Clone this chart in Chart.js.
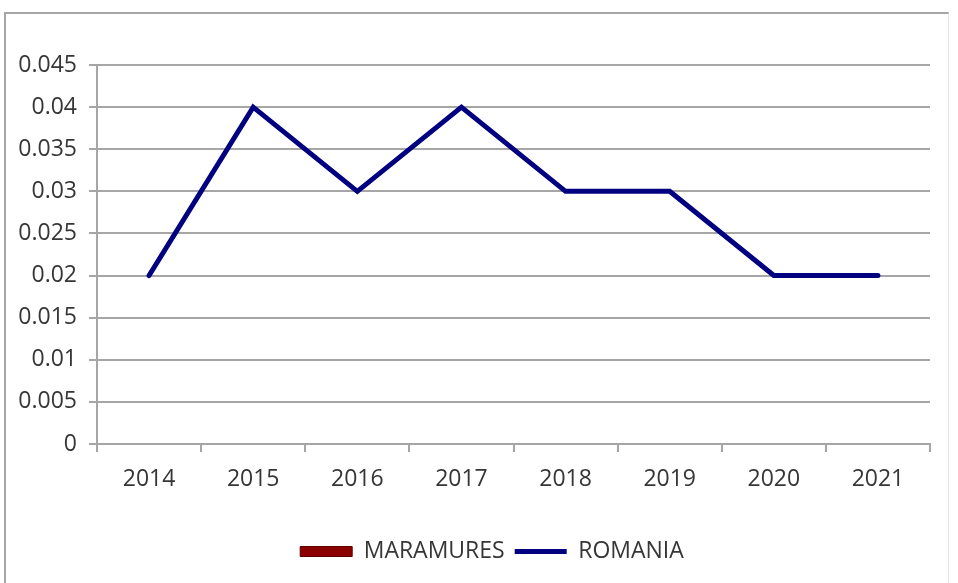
<!DOCTYPE html>
<html>
<head>
<meta charset="utf-8">
<script src="https://cdn.jsdelivr.net/npm/chart.js@4"></script>
<style>
  html, body { margin: 0; padding: 0; background: #fff; }
  #frame {
    position: absolute; left: 4px; top: 12px; width: 942px; height: 600px;
    border-left: 2px solid #a6a6a6; border-top: 2px solid #a6a6a6; border-right: 1px solid #e4e4e4;
  }
  #wrap { position: absolute; left: 0; top: 0; width: 958px; height: 583px; }
</style>
</head>
<body>
<div id="frame"></div>
<div id="wrap"><canvas id="chart"></canvas></div>
<script>
const years = ["2014", "2015", "2016", "2017", "2018", "2019", "2020", "2021"];
const maramures = [null, null, null, null, null, null, null, null];
const romania = [0.02, 0.04, 0.03, 0.04, 0.03, 0.03, 0.02, 0.02];
const yTickLabels = ["0", "0.005", "0.01", "0.015", "0.02", "0.025", "0.03", "0.035", "0.04", "0.045"];

const textColor = "#363636";
const gridColor = "#a6a6a6";
const font = { family: "'Open Sans', sans-serif", size: 23 };

// legend sits a bit right of centre in the original
const legendShift = {
  id: "legendShift",
  afterLayout(chart) {
    chart.legend.left += 27;
    chart.legend.right += 27;
  },
};

const ctx = document.getElementById("chart").getContext("2d");
new Chart(ctx, {
  type: "bar",
  data: {
    labels: years,
    datasets: [
      {
        label: "MARAMURES",
        data: maramures,
        backgroundColor: "#8b0000",
        borderColor: "#5c0000",
        borderWidth: 1,
        pointStyle: "rect",
      },
      {
        type: "line",
        label: "ROMANIA",
        data: romania,
        borderColor: "#000080",
        backgroundColor: "#000080",
        borderWidth: 5,
        borderCapStyle: "round",
        borderJoinStyle: "miter",
        pointRadius: 0,
        pointStyle: "line",
        tension: 0,
        fill: false,
      },
    ],
  },
  options: {
    responsive: true,
    maintainAspectRatio: false,
    animation: false,
    layout: { padding: { left: 0, right: 28, top: 65, bottom: 10 } },
    plugins: {
      tooltip: { enabled: false },
      legend: {
        position: "bottom",
        labels: {
          usePointStyle: true,
          pointStyleWidth: 52,
          boxHeight: 10,
          padding: 10,
          color: textColor,
          font,
        },
      },
    },
    scales: {
      x: {
        offset: true,
        afterFit: (s) => { s.height = 86; },
        grid: {
          offset: true,
          drawOnChartArea: false,
          drawTicks: true,
          tickLength: 8,
          color: gridColor,
          lineWidth: 2,
        },
        border: { color: gridColor, width: 2 },
        ticks: { color: textColor, font, padding: 14, maxRotation: 0 },
      },
      y: {
        min: 0,
        max: 0.045,
        afterFit: (s) => { s.width = 97; },
        grid: { color: gridColor, lineWidth: 2, tickLength: 8 },
        border: { color: gridColor, width: 2 },
        ticks: {
          stepSize: 0.005,
          color: textColor,
          font,
          padding: 12,
          callback: (v, i) => yTickLabels[i],
        },
      },
    },
  },
  plugins: [legendShift],
});
</script>
</body>
</html>
